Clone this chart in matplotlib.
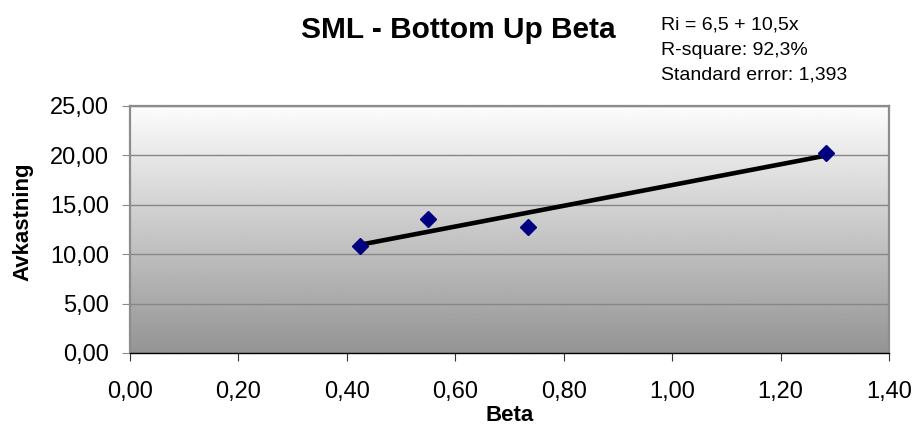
import numpy as np
import matplotlib
matplotlib.use('Agg')
import matplotlib.pyplot as plt
from matplotlib.ticker import FuncFormatter, MultipleLocator

plt.rcParams['font.family'] = ['Liberation Sans', 'DejaVu Sans']

# Bottom-up beta vs. return for each stock
beta = [0.424, 0.549, 0.735, 1.284]
avkastning = [10.86, 13.56, 12.72, 20.27]

# Regression results
intercept = 6.5
slope = 10.5
r_square = 92.3
std_error = 1.393

W, H = 914, 441


def comma(v, pos=None):
    return f'{v:.2f}'.replace('.', ',')


fig = plt.figure(figsize=(W / 100, H / 100), dpi=100)
ax = fig.add_axes([130 / W, 1 - 353 / H, 759 / W, 247 / H])

# grey gradient background, light at the top
grad = np.linspace(0.99, 0.58, 256).reshape(-1, 1)
ax.imshow(grad, cmap='gray', vmin=0, vmax=1, aspect='auto',
          extent=[0, 1, 0, 1], transform=ax.transAxes, zorder=0)

ax.set_xlim(0, 1.4)
ax.set_ylim(0, 25)
ax.xaxis.set_major_locator(MultipleLocator(0.2))
ax.yaxis.set_major_locator(MultipleLocator(5))
ax.xaxis.set_major_formatter(FuncFormatter(comma))
ax.yaxis.set_major_formatter(FuncFormatter(comma))

ax.grid(axis='y', color='#868686', linewidth=1.0, zorder=1)
ax.set_axisbelow(True)

# trendline from the regression coefficients
xl = np.array([min(beta), max(beta)])
ax.plot(xl, intercept + slope * xl, color='black', linewidth=3.3,
        solid_capstyle='butt', zorder=3)
ax.plot(beta, avkastning, linestyle='none', marker='D', markersize=8.5,
        color='#000080', zorder=4)

for side in ['left', 'top', 'right']:
    ax.spines[side].set_color('#8c8c8c')
    ax.spines[side].set_linewidth(1.6)
ax.spines['bottom'].set_color('black')
ax.spines['bottom'].set_linewidth(1.0)

ax.tick_params(axis='both', direction='out', length=6, labelsize=17,
               colors='black')
ax.tick_params(axis='x', pad=14, color='#333333')
ax.tick_params(axis='y', pad=9, color='#8c8c8c')

fig.text(510 / W, 1 - 421 / H, 'Beta', fontsize=16, fontweight='bold',
         ha='center', va='baseline')
fig.text(23 / W, 1 - 222 / H, 'Avkastning', fontsize=16, fontweight='bold',
         rotation=90, ha='center', va='center')

fig.text(458 / W, 1 - 38 / H, 'SML - Bottom Up Beta', fontsize=21.5,
         fontweight='bold', ha='center', va='baseline')

stats = [f'Ri = {intercept:.1f} + {slope:.1f}x',
         f'R-square: {r_square:.1f}%',
         f'Standard error: {std_error:.3f}']
for i, line in enumerate(stats):
    fig.text(661 / W, 1 - (30 + 25 * i) / H, line.replace('.', ','),
             fontsize=14, ha='left', va='baseline')

fig.savefig('out.png', dpi=100)
plt.close(fig)
